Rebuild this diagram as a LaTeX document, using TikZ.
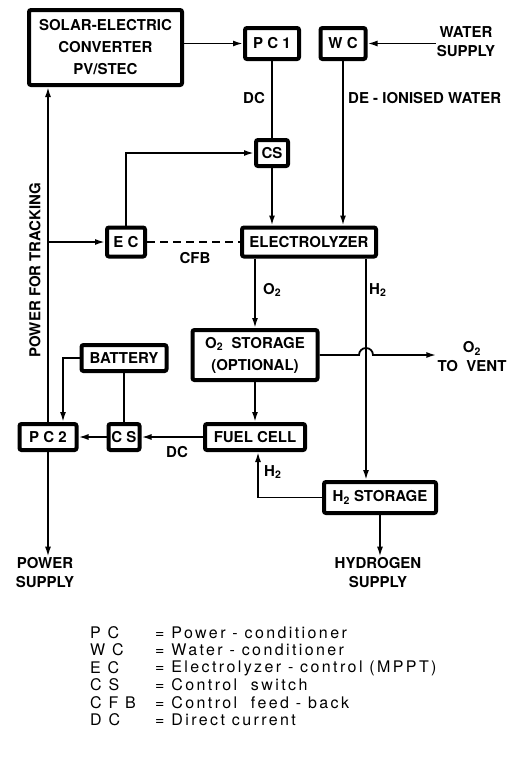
\documentclass[tikz,border=0pt]{standalone}
\usepackage{fontspec}
\setmainfont{TeX Gyre Heros}
\newfontfamily\keyfont[LetterSpace=15]{TeX Gyre Heros}
\usetikzlibrary{arrows.meta}

\tikzset{
  unit/.style={draw, line width=4pt, rounded corners=2pt, inner sep=2pt, align=center,
    font=\bfseries\fontsize{15}{22}\selectfont},
  lbl/.style={inner sep=1pt, align=center, font=\bfseries\fontsize{15}{19}\selectfont},
  flow/.style={line width=1.8pt, -{Latex[length=10pt,width=6pt]}},
  pipe/.style={line width=1.8pt},
  key/.style={anchor=west, inner sep=0pt, font=\keyfont\fontsize{16}{18}\selectfont},
}

\begin{document}
\begin{tikzpicture}[x=1pt,y=-1pt]
\useasboundingbox (0,0) rectangle (515,769);

  % blocks
  \node[unit, minimum width=153pt, minimum height=75pt] (solar) at (105.5,47.5) {SOLAR-ELECTRIC\\CONVERTER\\PV/STEC};
  \node[unit, minimum width=54pt, minimum height=31pt] (pc1) at (272,43.5) {P C 1};
  \node[unit, minimum width=45pt, minimum height=31pt] (wc) at (343,43.5) {W C};
  \node[unit, minimum width=32pt, minimum height=26pt] (cs1) at (272,153) {CS};
  \node[unit, minimum width=38pt, minimum height=29pt] (ec) at (126,242) {E C};
  \node[unit, minimum width=134pt, minimum height=29pt] (elec) at (309,242) {ELECTROLYZER};
  \node[unit, minimum width=125pt, minimum height=50pt] (o2s) at (255,355) {O\textsubscript{2}~~STORAGE\\(OPTIONAL)};
  \node[unit, minimum width=85pt, minimum height=26pt] (batt) at (124,358) {BATTERY};
  \node[unit, minimum width=57pt, minimum height=26pt] (pc2) at (48,437) {P C 2};
  \node[unit, minimum width=31pt, minimum height=26pt] (cs2) at (124,437) {C S};
  \node[unit, minimum width=100pt, minimum height=26pt] (fuel) at (255,437) {FUEL CELL};
  \node[unit, minimum width=112pt, minimum height=31pt] (h2s) at (380,497.5) {H\textsubscript{2} STORAGE};

  % free texts
  \node[lbl] (water) at (466,42) {WATER\\SUPPLY};
  \node[lbl] (dc1) at (254,98) {DC};
  \node[lbl, anchor=west] (deion) at (347,98) {DE - IONISED WATER};
  \node[lbl, rotate=90] (track) at (35,270) {POWER FOR TRACKING};
  \node[lbl] (cfb) at (195,258) {CFB};
  \node[lbl, anchor=west] (o2lbl) at (262,290) {O\textsubscript{2}};
  \node[lbl, anchor=west] (h2lbl) at (368,290) {H\textsubscript{2}};
  \node[lbl] (vent) at (472,357) {O\textsubscript{2}\\TO~~VENT};
  \node[lbl] (dc2) at (177,452) {DC};
  \node[lbl, anchor=west] (h2lbl2) at (263,472) {H\textsubscript{2}};
  \node[lbl] (psup) at (45,573) {POWER\\SUPPLY};
  \node[lbl] (hsup) at (378,573) {HYDROGEN\\SUPPLY};

  \coordinate (tap) at (pc2.north |- ec);
  \coordinate (h2x) at (366,0);
  \coordinate (hop) at (359,355);

  % connections
  \draw[flow] (solar.east |- pc1) -- (pc1.west);
  \draw[flow] (water.west |- wc) -- (wc.east);
  \draw[pipe] (pc1) -- (cs1);
  \draw[flow] (wc) -- (wc |- elec.north);
  \draw[flow] (cs1) -- (cs1 |- elec.north);
  \draw[flow] (ec.north) |- (cs1.west);
  \draw[flow] (pc2.north) -- (pc2.north |- solar.south);
  \draw[flow] (tap) -- (ec.west);
  \draw[pipe, dash pattern=on 8pt off 5pt] (ec.east) -- (elec.west);
  \draw[flow] (o2s |- elec.south) -- (o2s.north);
  \draw[flow] (elec.south -| h2x) -- (h2s.north -| h2x);
  \draw[flow] (o2s.east) -- (hop) arc[start angle=180, end angle=0, radius=7pt] -- (vent.west |- hop);
  \draw[flow] (o2s) -- (fuel);
  \draw[flow] (fuel) -- (cs2);
  \draw[flow] (cs2) -- (pc2);
  \draw[pipe] (cs2) -- (batt);
  \draw[flow] (batt.west) -| ([xshift=15pt]pc2.north);
  \draw[flow] (pc2.south) -- (pc2.south |- psup.north);
  \draw[flow] (h2s.west) -| ([xshift=3pt]fuel.south);
  \draw[flow] (h2s) -- (h2s.south |- hsup.north);

  % legend
  \node[key] (k1) at (90,633) {P C};
  \node[key] (d1) at (155,633) {= Power - conditioner};
  \node[key] (k2) at (90,650) {W C};
  \node[key] (d2) at (155,650) {= Water - conditioner};
  \node[key] (k3) at (90,668) {E C};
  \node[key] (d3) at (155,668) {= Electrolyzer - control (MPPT)};
  \node[key] (k4) at (90,685) {C S};
  \node[key] (d4) at (155,685) {= Control~~switch};
  \node[key] (k5) at (90,703) {C F B};
  \node[key] (d5) at (155,703) {= Control~~feed - back};
  \node[key] (k6) at (90,720) {D C};
  \node[key] (d6) at (155,720) {= Direct current};

\end{tikzpicture}
\end{document}
